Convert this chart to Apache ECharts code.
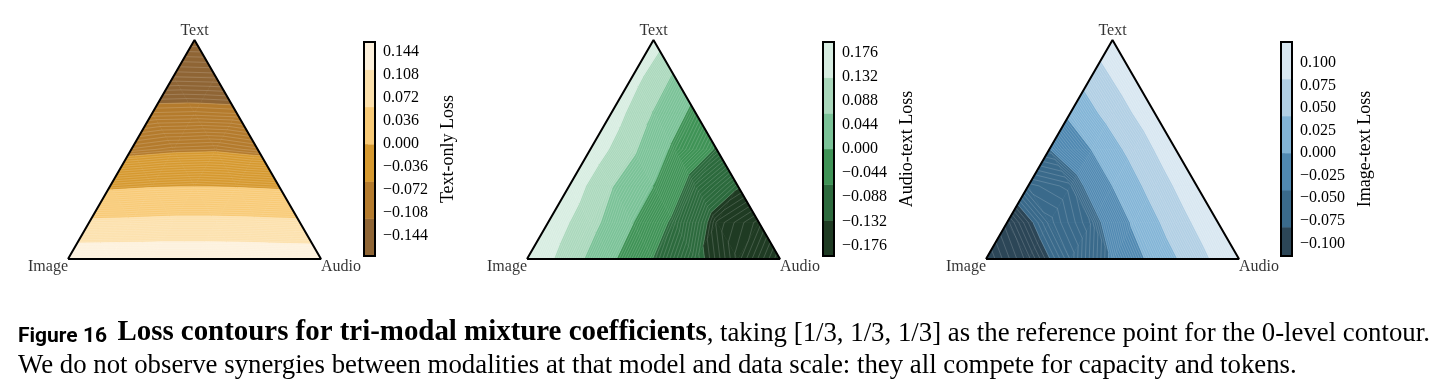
<!DOCTYPE html>
<html><head><meta charset="utf-8">
<script src="https://cdn.jsdelivr.net/npm/echarts@6/dist/echarts.min.js"></script>
<style>html,body{margin:0;padding:0;background:#fff}#c{width:1447px;height:392px}</style>
</head><body><div id="c"></div>
<script>
// ---------------- data ----------------
const cornerNames = ['Image', 'Audio', 'Text'];
const barTitles = ['Text-only Loss', 'Audio-text Loss', 'Image-text Loss'];
// Lattice values: row r = text share r/6 (bottom row first), column j = audio share j/6 (image share = rest)
const textOnlyLoss = [
  [0.156, 0.157, 0.158, 0.158, 0.157, 0.154, 0.152],
  [0.066, 0.068, 0.071, 0.071, 0.069, 0.066],
  [-0.008, -0.003, 0.000, -0.003, -0.007],
  [-0.070, -0.064, -0.062, -0.069],
  [-0.108, -0.107, -0.109],
  [-0.142, -0.143],
  [-0.172]
];
const audioTextLoss = [
  [0.190, 0.095, 0.009, -0.067, -0.122, -0.160, -0.195],
  [0.175, 0.085, 0.002, -0.078, -0.145, -0.165],
  [0.170, 0.068, 0.000, -0.090, -0.128],
  [0.172, 0.075, -0.013, -0.070],
  [0.165, 0.060, -0.018],
  [0.155, 0.055],
  [0.160]
];
const imageTextLoss = [
  [-0.112, -0.095, -0.070, -0.038, 0.012, 0.065, 0.120],
  [-0.098, -0.072, -0.055, 0.005, 0.062, 0.115],
  [-0.066, -0.060, 0.000, 0.058, 0.112],
  [-0.042, 0.000, 0.055, 0.110],
  [0.007, 0.058, 0.108],
  [0.060, 0.108],
  [0.110]
];
const textOnlyTicks = [-0.144, -0.108, -0.072, -0.036, 0, 0.036, 0.072, 0.108, 0.144];
const audioTextTicks = [-0.176, -0.132, -0.088, -0.044, 0, 0.044, 0.088, 0.132, 0.176];
const imageTextTicks = [-0.100, -0.075, -0.050, -0.025, 0, 0.025, 0.050, 0.075, 0.100];
const textOnlyRange = [-0.175, 0.160];
const audioTextRange = [-0.195, 0.195];
const imageTextRange = [-0.114, 0.123];
const textOnlyNormEdge = 0.175;
const audioTextNormEdge = 0.195;
const imageTextNormEdge = 0.123;
const textOnlyColors = ['#8f6535', '#b47b2d', '#d6992f', '#f8ca76', '#fce0ab', '#fdf1dc'];
const audioTextColors = ['#1f3b23', '#2c6a3d', '#3f9356', '#7ac297', '#aad8bc', '#d7ede1'];
const imageTextColors = ['#2c4657', '#3a6a8b', '#5089b2', '#82b4d6', '#b1cfe4', '#d8e7f1'];
// ---------------------------------------

const SQ3 = Math.sqrt(3) / 2;
const panels = [
  {vals: textOnlyLoss, ticks: textOnlyTicks, range: textOnlyRange, E: textOnlyNormEdge, colors: textOnlyColors, title: barTitles[0]},
  {vals: audioTextLoss, ticks: audioTextTicks, range: audioTextRange, E: audioTextNormEdge, colors: audioTextColors, title: barTitles[1]},
  {vals: imageTextLoss, ticks: imageTextTicks, range: imageTextRange, E: imageTextNormEdge, colors: imageTextColors, title: barTitles[2]}
];

function clip(poly, L, keepAbove) {
  if (!isFinite(L)) return poly;
  const out = [];
  const inside = p => keepAbove ? p.v >= L : p.v <= L;
  for (let i = 0; i < poly.length; i++) {
    const P = poly[i], Q = poly[(i + 1) % poly.length];
    const pin = inside(P), qin = inside(Q);
    if (pin) out.push(P);
    if (pin !== qin) {
      const f = (L - P.v) / (Q.v - P.v);
      out.push({x: P.x + f * (Q.x - P.x), y: P.y + f * (Q.y - P.y), v: L});
    }
  }
  return out;
}

function buildPanel(vals, E) {
  const n = vals.length - 1;
  const P = (r, j) => ({x: j / n + r / (2 * n), y: r / n * SQ3, v: vals[r][j]});
  const tris = [];
  for (let r = 0; r < n; r++) {
    for (let j = 0; j < n - r; j++) {
      tris.push([P(r, j), P(r, j + 1), P(r + 1, j)]);
      if (j < n - 1 - r) tris.push([P(r, j + 1), P(r + 1, j + 1), P(r + 1, j)]);
    }
  }
  const w = 2 * E / 6;
  const polys = [];
  tris.forEach(tri => {
    for (let k = 0; k < 6; k++) {
      const lo = k === 0 ? -Infinity : -E + k * w;
      const hi = k === 5 ? Infinity : -E + (k + 1) * w;
      let poly = clip(tri, lo, true);
      poly = clip(poly, hi, false);
      if (poly.length >= 3) polys.push({pts: poly.map(p => [p.x, p.y]), k});
    }
  });
  const segs = [];
  const fine = w / 14;
  for (let L = -E + fine; L < E; L += fine) {
    tris.forEach(tri => {
      const pts = [];
      for (let i = 0; i < 3; i++) {
        const A = tri[i], B = tri[(i + 1) % 3];
        if ((A.v - L) * (B.v - L) < 0) {
          const f = (L - A.v) / (B.v - A.v);
          pts.push([A.x + f * (B.x - A.x), A.y + f * (B.y - A.y)]);
        }
      }
      if (pts.length === 2) segs.push(pts);
    });
  }
  return {polys, segs};
}

const fmt = v => (v < -1e-9 ? '\u2212' : '') + Math.abs(v).toFixed(3);
const SERIF = 'Liberation Serif';
const triLeft = [68, 527, 986];
const barLeft = [364, 823, 1281];
const grid = [], xAxis = [], yAxis = [], series = [];

panels.forEach((pn, p) => {
  const built = buildPanel(pn.vals, pn.E);
  const gi = grid.length;
  grid.push({left: triLeft[p], top: 40, width: 253, height: 219});
  xAxis.push({gridIndex: gi, type: 'value', min: 0, max: 1, show: false});
  yAxis.push({gridIndex: gi, type: 'value', min: 0, max: SQ3, show: false});
  series.push({
    type: 'custom', xAxisIndex: gi, yAxisIndex: gi, silent: true, animation: false, clip: false,
    data: built.polys.map(q => q.pts[0]),
    renderItem: (params, api) => {
      const q = built.polys[params.dataIndex];
      const c = pn.colors[q.k];
      return {type: 'polygon', shape: {points: q.pts.map(pt => api.coord(pt))},
              style: {fill: c, stroke: c, lineWidth: 0.7}};
    }
  });
  series.push({
    type: 'custom', xAxisIndex: gi, yAxisIndex: gi, silent: true, animation: false, clip: false,
    data: built.segs.map(s => s[0]),
    renderItem: (params, api) => {
      const s = built.segs[params.dataIndex];
      const a = api.coord(s[0]), b = api.coord(s[1]);
      return {type: 'line', shape: {x1: a[0], y1: a[1], x2: b[0], y2: b[1]},
              style: {stroke: 'rgba(255,255,255,0.28)', lineWidth: 0.6}};
    }
  });
  series.push({
    type: 'line', xAxisIndex: gi, yAxisIndex: gi, silent: true, animation: false, symbol: 'none', z: 5,
    data: [[0, 0], [1, 0], [0.5, SQ3], [0, 0]],
    lineStyle: {color: '#000', width: 2}
  });
  series.push({
    type: 'scatter', xAxisIndex: gi, yAxisIndex: gi, silent: true, animation: false, symbolSize: 0, z: 6,
    data: [
      {value: [0, 0], name: cornerNames[0], label: {align: 'right', verticalAlign: 'middle', offset: [0, 8]}},
      {value: [1, 0], name: cornerNames[1], label: {align: 'left', verticalAlign: 'middle', offset: [0, 8]}},
      {value: [0.5, SQ3], name: cornerNames[2], label: {align: 'center', verticalAlign: 'bottom', offset: [0, -1]}}
    ],
    label: {show: true, position: 'inside', formatter: '{b}', fontFamily: SERIF, fontSize: 16, color: '#000'}
  });

  // colorbar
  const bi = grid.length;
  grid.push({left: barLeft[p], top: 42, width: 11, height: 214});
  xAxis.push({gridIndex: bi, type: 'value', min: 0, max: 1, show: false});
  yAxis.push({
    gridIndex: bi, type: 'value', min: pn.range[0], max: pn.range[1], position: 'right',
    axisLine: {show: false}, splitLine: {show: false},
    axisTick: {show: true, length: 4, customValues: pn.ticks, lineStyle: {color: '#000', width: 1}},
    axisLabel: {customValues: pn.ticks, formatter: fmt, fontFamily: SERIF, fontSize: 16, color: '#000', margin: 8},
    name: pn.title, nameLocation: 'middle', nameRotate: 90, nameGap: 64,
    nameTextStyle: {fontFamily: SERIF, fontSize: 18, color: '#000'}
  });
  const w = 2 * pn.E / 6;
  const bins = [];
  for (let k = 0; k < 6; k++) {
    const lo = Math.max(-pn.E + k * w, pn.range[0]);
    const hi = Math.min(-pn.E + (k + 1) * w, pn.range[1]);
    if (hi > lo) bins.push([lo, hi, k]);
  }
  series.push({
    type: 'custom', xAxisIndex: bi, yAxisIndex: bi, silent: true, animation: false,
    data: bins,
    encode: {x: -1, y: [0, 1]},
    renderItem: (params, api) => {
      const b = bins[params.dataIndex];
      const a = api.coord([0, b[1]]), c = api.coord([1, b[0]]);
      return {type: 'rect', shape: {x: a[0], y: a[1], width: c[0] - a[0], height: c[1] - a[1]},
              style: {fill: pn.colors[b[2]], stroke: pn.colors[b[2]], lineWidth: 0.5}};
    }
  });
  series.push({
    type: 'custom', xAxisIndex: bi, yAxisIndex: bi, silent: true, animation: false, z: 5,
    data: [[0, pn.range[0]]],
    renderItem: (params, api) => {
      const a = api.coord([0, pn.range[1]]), c = api.coord([1, pn.range[0]]);
      return {type: 'rect', shape: {x: a[0], y: a[1], width: c[0] - a[0], height: c[1] - a[1]},
              style: {fill: 'none', stroke: '#000', lineWidth: 2}};
    }
  });
});

const chart = echarts.init(document.getElementById('c'), null, {renderer: 'canvas'});
chart.setOption({
  backgroundColor: '#fff',
  animation: false,
  grid, xAxis, yAxis, series,
  graphic: [
    {type: 'text', x: 18, y: 331, silent: true, style: {
      text: '{a|Figure 16  }{b|Loss contours for tri-modal mixture coefficients}{c|, taking [1/3, 1/3, 1/3] as the reference point for the 0-level contour.}',
      verticalAlign: 'middle',
      rich: {
        a: {fontFamily: 'Roboto', fontWeight: 'bold', fontSize: 21, fill: '#000', lineHeight: 32, verticalAlign: 'bottom'},
        b: {fontFamily: SERIF, fontWeight: 'bold', fontSize: 28.9, fill: '#000', lineHeight: 32, verticalAlign: 'bottom'},
        c: {fontFamily: SERIF, fontSize: 26.8, fill: '#000', lineHeight: 32, verticalAlign: 'bottom'}
      }
    }},
    {type: 'text', x: 18, y: 366, silent: true, style: {
      text: 'We do not observe synergies between modalities at that model and data scale: they all compete for capacity and tokens.',
      verticalAlign: 'middle',
      fontFamily: SERIF, fontSize: 26.8, fill: '#000'
    }}
  ]
});
</script>
</body></html>
